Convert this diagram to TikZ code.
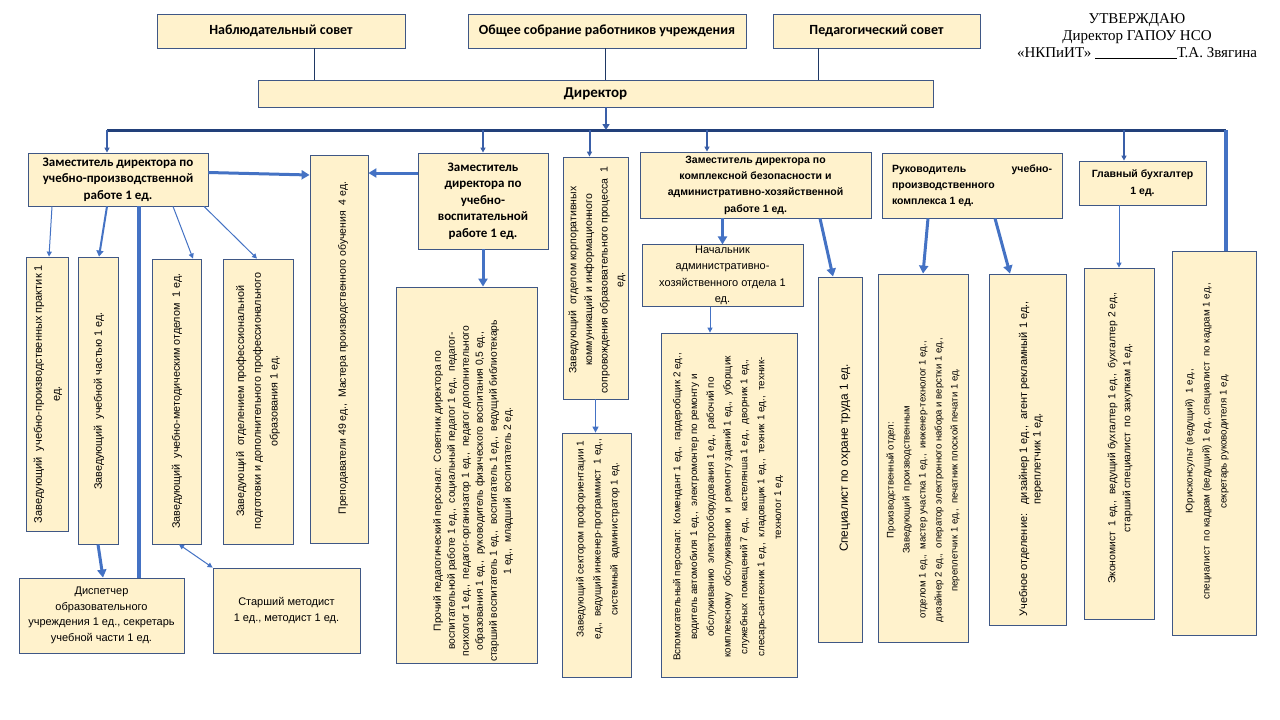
\documentclass[tikz,border=0pt]{standalone}
\usepackage{fontspec}
\setmainfont{Liberation Sans}
\newfontfamily\carl{Carlito}
\newfontfamily\serf{Liberation Serif}
\usetikzlibrary{arrows.meta}
\definecolor{boxfill}{HTML}{FFF2CC}
\definecolor{bordc}{HTML}{3F5785}
\definecolor{arrc}{HTML}{4472C4}
\definecolor{navyc}{HTML}{1F3864}
\definecolor{busc}{HTML}{22407A}
\definecolor{dropc}{HTML}{3A5FA8}
\newcommand\fs[2]{\fontsize{#1}{#2}\selectfont}
\newcommand\mkbox[7][]{%
  \pgfmathsetmacro\bcx{(#3+#5)/2}%
  \pgfmathsetmacro\bcy{(#4+#6)/2}%
  \pgfmathsetmacro\bw{#5-#3}%
  \pgfmathsetmacro\bh{#6-#4}%
  \node[box, minimum width=\bw pt, minimum height=\bh pt,#1] (#2) at (\bcx,\bcy) {#7};}
\begin{document}
\begin{tikzpicture}[x=1pt,y=-1pt,
 box/.style={draw=bordc, fill=boxfill, line width=0.8pt, inner sep=1pt, align=center, font=\fs{11}{15.5}},
 hdr/.style={font=\carl\bfseries\fs{13}{16.5}},
 hdrA/.style={font=\bfseries\fs{10.5}{16.3}},
 topb/.style={font=\carl\bfseries\fs{14}{16}},
 rt/.style={rotate=90, align=center, inner sep=0pt},
 thinline/.style={draw=navyc, line width=0.9pt},
 bus/.style={draw=busc, line width=3pt},
 drop/.style={draw=dropc, line width=2pt, -{Triangle[length=5pt,width=5pt]}},
 big/.style={draw=arrc, line width=3pt, -{Triangle[length=8pt,width=9pt]}},
 mid/.style={draw=arrc, line width=2pt, -{Triangle[length=6pt,width=7pt]}},
 thn/.style={draw=arrc, line width=1pt, -{Triangle[length=5pt,width=5pt]}},
]
\fill[white] (0,0) rectangle (1280,720);
\useasboundingbox (0,0) rectangle (1280,720);

% top row
\mkbox[topb]{N1}{157}{14}{405}{48}{Наблюдательный совет}
\mkbox[topb]{N2}{468}{14}{746}{48}{Общее собрание работников учреждения}
\mkbox[topb]{N3}{773}{14}{980}{48}{Педагогический совет}
\mkbox[topb,font=\carl\bfseries\fs{15}{16}]{Dir}{258}{80}{933}{107}{Директор}

\node[font=\serf\fs{15}{17}, align=center, inner sep=0pt] (utv) at (1137,36)
 {УТВЕРЖДАЮ\\Директор ГАПОУ НСО\\«НКПиИТ» \rule[-1pt]{82pt}{0.6pt}Т.А. Звягина};

% level 2
\mkbox[hdr]{Zam1}{28}{153}{208}{206}{Заместитель директора по\\учебно-производственной\\работе 1 ед.}
\mkbox{Mast}{310}{155}{368}{543}{}
\mkbox[hdr]{Zam2}{418}{153}{548}{249}{Заместитель\\директора по\\учебно-\\воспитательной\\работе 1 ед.}
\mkbox{Korp}{563}{157}{628}{399}{}
\mkbox[hdrA]{Zam3}{640}{152}{871}{218}{Заместитель директора по\\комплексной безопасности и\\административно-хозяйственной\\работе 1 ед.}
\mkbox[hdrA,align=left]{Ruk}{882}{153}{1062}{218}{\parbox{160pt}{Руководитель\hfill учебно-\\производственного\\комплекса 1 ед.}}
\mkbox[hdrA]{Glav}{1079}{161}{1206}{205}{Главный бухгалтер\\1 ед.}
\mkbox{Yur}{1172}{251}{1256}{635}{}
\mkbox{Econ}{1084}{268}{1154}{619}{}

% level 3
\mkbox{A}{26}{257}{68}{531}{}
\mkbox{B}{78}{257}{118}{544}{}
\mkbox{C}{152}{259}{201}{544}{}
\mkbox{D}{223}{259}{293}{544}{}
\mkbox{Disp}{19}{578}{184}{653}{Диспетчер\\образовательного\\учреждения 1 ед., секретарь\\учебной части 1 ед.}
\mkbox{SenM}{213}{568}{360}{653}{Старший методист\\1 ед., методист 1 ед.}
\mkbox{Proch}{396}{287}{537}{663}{}
\mkbox{Sect}{562}{433}{631}{677}{}
\mkbox[font=\fs{11}{16.5}]{Nach}{642}{246}{803}{305}{Начальник\\административно-\\хозяйственного отдела 1\\ед.}
\mkbox{Vsp}{661}{333}{797}{677}{}
\mkbox{SpecOT}{818}{277}{862}{642}{}
\mkbox{Proizv}{878}{274}{968}{642}{}
\mkbox{Ucheb}{989}{274}{1066}{625}{}

% rotated texts
\node[rt, font=\fs{11}{18}] (At) at (48,394) {Заведующий\ \ учебно-производственных практик 1\\ед.};
\node[rt, font=\fs{10.8}{16}] (Bt) at (99,401) {Заведующий\ \ учебной частью 1 ед.};
\node[rt, font=\fs{10.8}{16}] (Ct) at (177,401) {Заведующий\ \ учебно-методическим отделом\ \ 1 ед.};
\node[rt, font=\fs{10.8}{16.7}] (Dt) at (258,401) {Заведующий\ \ отделением профессиональной\\подготовки и дополнительного профессионального\\образования 1 ед.};
\node[rt, font=\fs{10.5}{15}] (Mastt) at (343,348) {Преподаватели 49 ед.,\ \ Мастера производственного обучения\ \ 4 ед.};
\node[rt, font=\fs{10.3}{14}] (Procht) at (473,491) {Прочий педагогический персонал:\ \ Советник директора по\\воспитательной работе 1 ед.,\ \ социальный педагог 1 ед.,\ \ педагог-\\психолог 1 ед.,\ \ педагог-организатор 1 ед.,\ \ педагог дополнительного\\образования 1 ед.,\ \ руководитель физического воспитания 0,5 ед.,\\старший воспитатель 1 ед.,\ \ воспитатель 1 ед.,\ \ ведущий библиотекарь\\1 ед.,\ \ младший\ \ воспитатель 2 ед.};
\node[rt, font=\fs{10.5}{15.7}] (Korpt) at (597,280) {Заведующий\ \ отделом корпоративных\\коммуникаций и информационного\\сопровождения образовательного процесса\ \ 1\\ед.};
\node[rt, font=\fs{10}{17}] (Sectt) at (598,539) {Заведующий сектором профориентации 1\\ед.,\ \ ведущий инженер-программист\ \ 1 ед.,\\системный\ \ администратор 1 ед.};
\node[rt, font=\fs{9.9}{16.8}] (Vspt) at (728,507) {Вспомогательный персонал:\ \ Комендант 1 ед.,\ \ гардеробщик 2 ед.,\\водитель автомобиля 1 ед.,\ \ электромонтер по ремонту и\\обслуживанию\ \ электрооборудования 1 ед.,\ \ рабочий по\\комплексному\ \ обслуживанию\ \ и\ \ ремонту зданий 1 ед.,\ \ уборщик\\служебных\ \ помещений 7 ед.,\ \ кастелянша 1 ед.,\ \ дворник 1 ед.,\\слесарь-сантехник 1 ед.,\ \ кладовщик 1 ед.,\ \ техник 1 ед.,\ \ техник-\\технолог 1 ед.};
\node[rt, font=\fs{11.8}{15}] (SpecOTt) at (845,458) {Специалист по охране труда 1 ед.};
\node[rt, font=\fs{9.6}{16}] (Proizvt) at (923,480) {Производственный отдел:\\Заведующий\ \ производственным\\отделом 1 ед.,\ \ мастер участка 1 ед.,\ \ инженер-технолог 1 ед.,\\дизайнер 2 ед.,\ \ оператор электронного набора и верстки 1 ед.,\\переплетчик 1 ед.,\ \ печатник плоской печати 1 ед.};
\node[rt, font=\fs{11}{13.5}] (Uchebt) at (1031,459) {Учебное отделение:\ \ \ дизайнер 1 ед.,\ \ агент рекламный 1 ед.,\\переплетчик 1 ед.};
\node[rt, font=\fs{10.3}{15}] (Econt) at (1120,438) {Экономист\ \ 1 ед.,\ \ ведущий бухгалтер 1 ед.,\ \ бухгалтер 2 ед.,\\старший специалист\ \ по закупкам 1 ед.};
\node[rt, font=\fs{9.8}{17}] (Yurt) at (1207,441) {Юрисконсульт (ведущий)\ \ 1 ед.,\\специалист\ \ по кадрам (ведущий) 1 ед., специалист\ \ по кадрам 1 ед.,\\секретарь руководителя 1 ед.};

% council lines
\draw[thinline] ([xshift=33pt]N1.south) -- ([xshift=33pt]N1.south |- Dir.north);
\draw[thinline] ([xshift=-2pt]N2.south) -- ([xshift=-2pt]N2.south |- Dir.north);
\draw[thinline] ([xshift=-58.5pt]N3.south) -- ([xshift=-58.5pt]N3.south |- Dir.north);

% bus
\coordinate (busL) at (107,130);
\coordinate (busR) at (1226,130);
\draw[bus] (busL) -- (busR);
\draw[draw=dropc, line width=2.5pt, -{Triangle[length=6pt,width=7pt]}] ([xshift=10.5pt]Dir.south) -- ([xshift=10.5pt]Dir.south |- busL);
\draw[drop] (busL) -- (busL |- Zam1.north);
\draw[drop] (Zam2.north |- busL) -- (Zam2.north);
\draw[drop] ([xshift=-6pt]Korp.north |- busL) -- ([xshift=-6pt]Korp.north);
\draw[drop] ([xshift=-48.5pt]Zam3.north |- busL) -- ([xshift=-48.5pt]Zam3.north);
\draw[drop] ([xshift=-18.5pt]Glav.north |- busL) -- ([xshift=-18.5pt]Glav.north);
\draw[draw=arrc, line width=3.5pt] (busR) -- (busR |- Yur.north);

% Zam1 children
\draw[thn] ([xshift=-66pt]Zam1.south) -- ([xshift=2pt]A.north);
\draw[mid] ([xshift=-11pt]Zam1.south) -- ([xshift=1pt]B.north);
\draw[draw=arrc, line width=3.5pt] ([xshift=21pt]Zam1.south) -- ([xshift=21pt]Zam1.south |- Disp.north);
\draw[thn] ([xshift=55pt]Zam1.south) -- ([xshift=16.5pt]C.north);
\draw[thn] ([xshift=86pt]Zam1.south) -- ([xshift=-1pt]D.north);
\draw[big] ([yshift=7pt]Zam1.east) -- ([yshift=174pt]Mast.west);
\draw[big] ([yshift=28pt]Zam2.west) -- ([yshift=28pt]Zam2.west -| Mast.east);
\draw[big] (B.south) -- ([xshift=1.5pt]Disp.north);
\draw[draw=arrc, line width=1pt, {Triangle[length=5pt,width=5pt]}-{Triangle[length=5pt,width=5pt]}] ([xshift=2.5pt]C.south) -- (SenM.north west);

% other branches
\draw[big] (Zam2.south) -- (Zam2.south |- Proch.north);
\draw[draw=arrc, line width=1.3pt, -{Triangle[length=6pt,width=6pt]}] (Korp.south) -- (Korp.south |- Sect.north);
\draw[big] (Nach.north |- Zam3.south) -- (Nach.north);
\draw[thn] ([xshift=-12.5pt]Nach.south) -- ([xshift=-12.5pt]Nach.south |- Vsp.north);
\draw[big] ([xshift=64.5pt]Zam3.south) -- ([xshift=-7pt]SpecOT.north);
\draw[big] ([xshift=-44pt]Ruk.south) -- (Proizv.north);
\draw[big] ([xshift=23pt]Ruk.south) -- ([xshift=-17.5pt]Ucheb.north);
\draw[thn] ([xshift=-23.5pt]Glav.south) -- (Econ.north);
\end{tikzpicture}
\end{document}
